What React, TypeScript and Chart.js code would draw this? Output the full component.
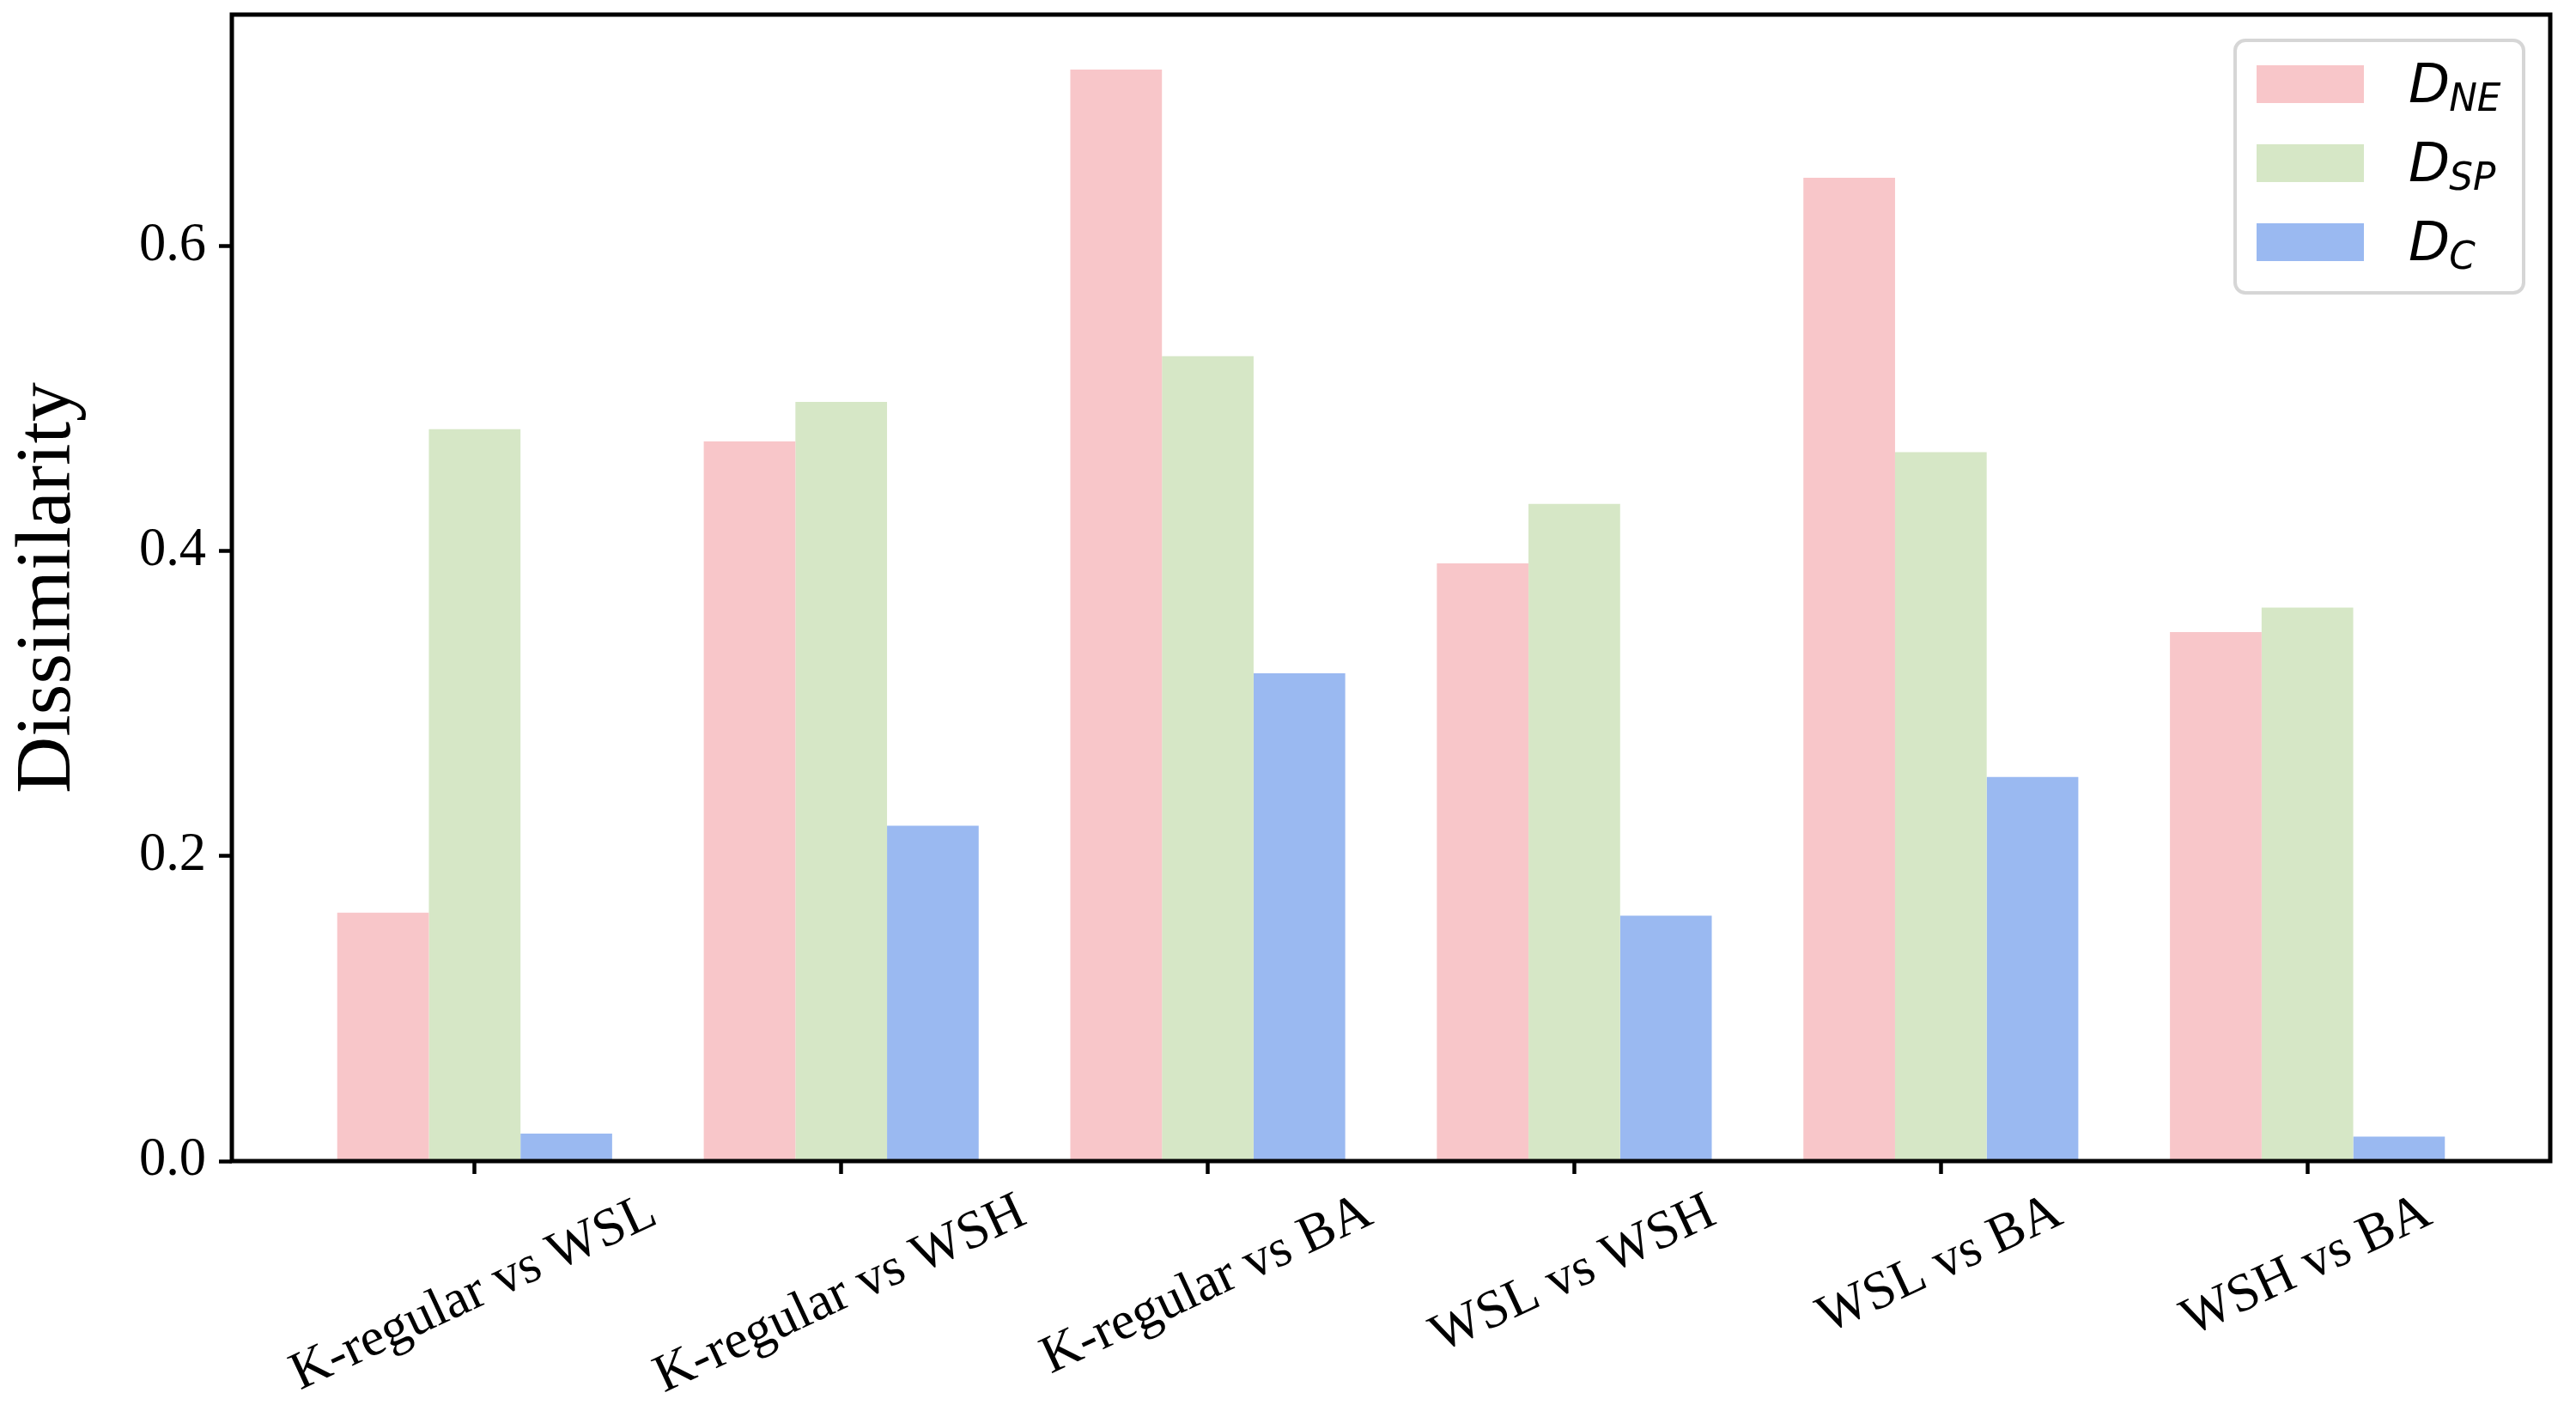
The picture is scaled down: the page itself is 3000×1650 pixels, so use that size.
import React, { useEffect, useRef } from 'react';
import { Chart, registerables } from 'chart.js';

Chart.register(...registerables);

// ---- data ----
const categories = ['K-regular vs WSL', 'K-regular vs WSH', 'K-regular vs BA', 'WSL vs WSH', 'WSL vs BA', 'WSH vs BA'];
const dNE = [0.163, 0.472, 0.716, 0.392, 0.645, 0.347];
const dSP = [0.48, 0.498, 0.528, 0.431, 0.465, 0.363];
const dC = [0.018, 0.22, 0.32, 0.161, 0.252, 0.016];
const seriesMain = ['D', 'D', 'D'];
const seriesSub = ['NE', 'SP', 'C'];
const seriesColors = ['#F8C6C9', '#D6E7C6', '#9AB9F1'];
const yTicks = [0, 0.2, 0.4, 0.6];
const yTitle = 'Dissimilarity';
const yMax = 0.752;
const xMin = -0.6625;
const xMax = 5.6625;

const SERIF = '"Liberation Serif", "Times New Roman", serif';
const SANS = '"DejaVu Sans", sans-serif';
const TICK_SIZE = 62.5;
const ROT = (25 * Math.PI) / 180;

const framePlugin = {
  id: 'frame',
  afterDatasetsDraw(chart: any) {
    const { ctx, chartArea } = chart;
    ctx.save();
    ctx.lineWidth = 5;
    ctx.strokeStyle = '#000';
    ctx.strokeRect(chartArea.left, chartArea.top, chartArea.right - chartArea.left, chartArea.bottom - chartArea.top);
    ctx.restore();
  },
};

const xLabelPlugin = {
  id: 'xlabels',
  afterDraw(chart: any) {
    const { ctx, chartArea } = chart;
    const xs = chart.scales.x;
    ctx.save();
    ctx.font = `${TICK_SIZE}px ${SERIF}`;
    ctx.fillStyle = '#000';
    ctx.textAlign = 'center';
    ctx.textBaseline = 'alphabetic';
    const base = chartArea.bottom + 33;
    categories.forEach((lab, i) => {
      const w = ctx.measureText(lab).width;
      const px = xs.getPixelForValue(i) + 6;
      const py = base + (w / 2) * Math.sin(ROT) + 0.683 * TICK_SIZE * Math.cos(ROT);
      ctx.save();
      ctx.translate(px, py);
      ctx.rotate(-ROT);
      ctx.fillText(lab, 0, 0);
      ctx.restore();
    });
    ctx.restore();
  },
};

const legendPlugin = {
  id: 'mathLegend',
  afterDraw(chart: any) {
    const { ctx, chartArea } = chart;
    const boxW = 336;
    const boxH = 294;
    const bx = chartArea.right - 31 - boxW;
    const by = chartArea.top + 30;
    ctx.save();
    ctx.beginPath();
    (ctx as any).roundRect(bx, by, boxW, boxH, 12);
    ctx.fillStyle = 'rgba(255,255,255,0.8)';
    ctx.fill();
    ctx.lineWidth = 4;
    ctx.strokeStyle = '#d6d6d6';
    ctx.stroke();
    chart.data.datasets.forEach((ds: any, i: number) => {
      const cy = by + 51 + i * 92;
      ctx.fillStyle = ds.backgroundColor;
      ctx.fillRect(bx + 25, cy - 22, 125, 44);
      ctx.fillStyle = '#000';
      ctx.textAlign = 'left';
      ctx.textBaseline = 'alphabetic';
      ctx.font = `italic 62.5px ${SANS}`;
      const tx = bx + 202;
      ctx.fillText(seriesMain[i], tx, cy + 21);
      const mw = ctx.measureText(seriesMain[i]).width;
      ctx.font = `italic 43.75px ${SANS}`;
      ctx.fillText(seriesSub[i], tx + mw - 1, cy + 31);
    });
    ctx.restore();
  },
};

export default function App() {
  const ref = useRef<HTMLCanvasElement | null>(null);

  useEffect(() => {
    document.body.style.margin = '0';
    const canvas = ref.current;
    if (!canvas) return;
    const series = [dNE, dSP, dC];
    const chart = new Chart(canvas, {
      type: 'bar',
      data: {
        datasets: series.map((vals, s) => ({
          label: seriesMain[s] + seriesSub[s],
          data: vals.map((v, i) => ({ x: i, y: v })),
          backgroundColor: seriesColors[s],
          borderWidth: 0,
          categoryPercentage: 0.75,
          barPercentage: 1.0,
        })),
      },
      options: {
        responsive: false,
        animation: false,
        devicePixelRatio: 1,
        layout: { padding: { top: 17, right: 30, bottom: 0, left: 0 } },
        plugins: {
          legend: { display: false },
          tooltip: { enabled: false },
          title: { display: false },
        },
        scales: {
          x: {
            type: 'linear',
            min: xMin,
            max: xMax,
            offset: false,
            afterBuildTicks: (scale: any) => {
              scale.ticks = categories.map((_, i) => ({ value: i }));
            },
            afterFit: (scale: any) => {
              scale.height = 1650 - 1352;
              scale.paddingLeft = 0;
              scale.paddingRight = 0;
            },
            ticks: { display: false },
            grid: {
              display: true,
              offset: false,
              drawOnChartArea: false,
              drawTicks: true,
              tickLength: 15,
              tickWidth: 4.5,
              tickColor: '#000',
            },
            border: { display: false },
          },
          y: {
            type: 'linear',
            min: 0,
            max: yMax,
            afterBuildTicks: (scale: any) => {
              scale.ticks = yTicks.map((v) => ({ value: v }));
            },
            afterFit: (scale: any) => {
              scale.width = 270;
              scale.paddingTop = 0;
              scale.paddingBottom = 0;
            },
            ticks: {
              padding: 15,
              color: '#000',
              font: { family: SERIF, size: TICK_SIZE },
              callback: (v: any) => Number(v).toFixed(1),
            },
            grid: {
              display: true,
              drawOnChartArea: false,
              drawTicks: true,
              tickLength: 15,
              tickWidth: 4.5,
              tickColor: '#000',
            },
            border: { display: false },
            title: {
              display: true,
              text: yTitle,
              color: '#000',
              font: { family: SERIF, size: 91.7 },
              padding: { top: 2, bottom: 0 },
            },
          },
        },
      },
      plugins: [framePlugin, xLabelPlugin, legendPlugin],
    } as any);
    return () => chart.destroy();
  }, []);

  return (
    <div style={{ width: 3000, height: 1650, background: '#fff' }}>
      <canvas ref={ref} width={3000} height={1650} style={{ width: 3000, height: 1650, display: 'block' }} />
    </div>
  );
}
